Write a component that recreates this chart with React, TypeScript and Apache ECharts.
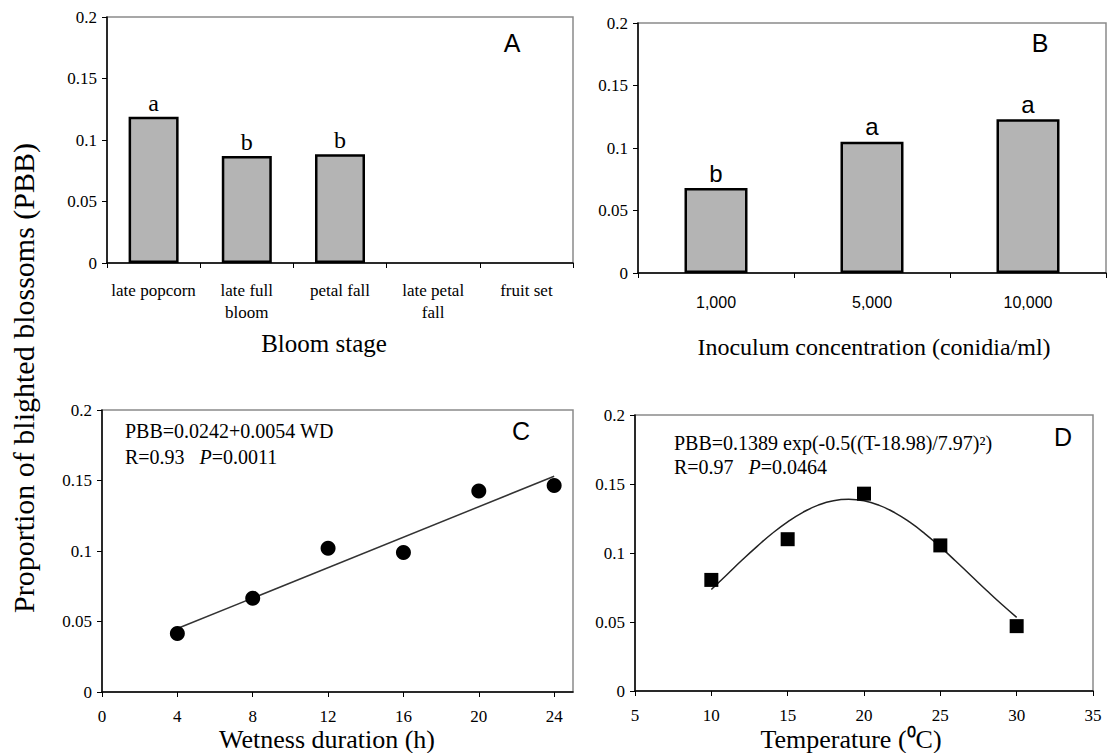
import React, { useEffect, useRef } from "react";
import * as echarts from "echarts";

const SERIF = "'Liberation Serif', 'Times New Roman', serif";
const SANS = "'Liberation Sans', Arial, sans-serif";

// Panel A: bloom stage
const bloomStages = ["late popcorn", "late full\nbloom", "petal fall", "late petal\nfall", "fruit set"];
const bloomPBB = [0.119, 0.087, 0.0885, 0, 0];
const bloomLetters = ["a", "b", "b", "", ""];

// Panel B: inoculum concentration
const inoculumLevels = ["1,000", "5,000", "10,000"];
const inoculumPBB = [0.068, 0.105, 0.123];
const inoculumLetters = ["b", "a", "a"];

// Panel C: wetness duration
const wetnessHours = [4, 8, 12, 16, 20, 24];
const wetnessPBB = [0.0415, 0.0665, 0.102, 0.099, 0.1425, 0.1465];
const wetnessFitHours = [4, 24];
const wetnessFitPBB = [0.045, 0.153];

// Panel D: temperature
const temperatures = [10, 15, 20, 25, 30];
const temperaturePBB = [0.0805, 0.11, 0.143, 0.1055, 0.047];
const tempFitT = [10, 11, 12, 13, 14, 15, 16, 17, 18, 19, 20, 21, 22, 23, 24, 25, 26, 27, 28, 29, 30];
const tempFitPBB = [0.0736, 0.0841, 0.0947, 0.1048, 0.1143, 0.1226, 0.1295, 0.1347, 0.1379, 0.1389, 0.1378,
  0.1345, 0.1293, 0.1223, 0.1139, 0.1044, 0.0942, 0.0837, 0.0732, 0.063, 0.0534];

const yMin = 0;
const yMax = 0.2;
const yStep = 0.05;

const barFill = "#b4b4b4";

function yAxis(gridIndex: number) {
  return {
    type: "value",
    gridIndex,
    min: yMin,
    max: yMax,
    interval: yStep,
    axisLine: { show: true, lineStyle: { color: "#000", width: 1.5 } },
    axisTick: { show: true, length: 5, lineStyle: { color: "#000", width: 1 } },
    splitLine: { show: false },
    axisLabel: { fontFamily: SERIF, fontSize: 17, color: "#000", margin: 10 },
  };
}

const gridBorder = { show: true, borderColor: "#8a8a8a", borderWidth: 1.5, backgroundColor: "transparent" };

function barItems(values: number[]) {
  return values.map((v) => (v === 0 ? { value: v, itemStyle: { borderWidth: 0, opacity: 0 } } : v));
}

export default function App() {
  const ref = useRef<HTMLDivElement>(null);
  useEffect(() => {
    if (!ref.current) return;
    const chart = echarts.init(ref.current, null, { renderer: "svg" });
    const option: any = {
      animation: false,
      backgroundColor: "#fff",
      grid: [
        { left: 107, top: 17, width: 466, height: 246, ...gridBorder },
        { left: 638, top: 23, width: 468, height: 250, ...gridBorder },
        { left: 102, top: 410, width: 471, height: 282, ...gridBorder },
        { left: 635, top: 415, width: 458, height: 276, ...gridBorder },
      ],
      xAxis: [
        {
          type: "category",
          gridIndex: 0,
          data: bloomStages,
          axisLine: { show: true, lineStyle: { color: "#000", width: 1.5 } },
          axisTick: { show: true, length: 5, lineStyle: { color: "#000" } },
          axisLabel: { interval: 0, fontFamily: SERIF, fontSize: 17, color: "#000", margin: 16, lineHeight: 22 },
        },
        {
          type: "category",
          gridIndex: 1,
          data: inoculumLevels,
          axisLine: { show: true, lineStyle: { color: "#000", width: 1.5 } },
          axisTick: { show: true, length: 5, lineStyle: { color: "#000" } },
          axisLabel: { interval: 0, fontFamily: SANS, fontSize: 16, color: "#000", margin: 21 },
        },
        {
          type: "value",
          gridIndex: 2,
          min: 0,
          max: 25,
          interval: 4,
          axisLine: { show: true, lineStyle: { color: "#000", width: 1.5 } },
          axisTick: { show: true, length: 5, lineStyle: { color: "#000" } },
          splitLine: { show: false },
          axisLabel: { fontFamily: SERIF, fontSize: 17, color: "#000", margin: 16, showMaxLabel: false },
        },
        {
          type: "value",
          gridIndex: 3,
          min: 5,
          max: 35,
          interval: 5,
          axisLine: { show: true, lineStyle: { color: "#000", width: 1.5 } },
          axisTick: { show: true, length: 5, lineStyle: { color: "#000" } },
          splitLine: { show: false },
          axisLabel: { fontFamily: SERIF, fontSize: 17, color: "#000", margin: 16 },
        },
      ],
      yAxis: [yAxis(0), yAxis(1), yAxis(2), yAxis(3)],
      series: [
        {
          type: "bar",
          xAxisIndex: 0,
          yAxisIndex: 0,
          data: barItems(bloomPBB),
          barWidth: 50,
          itemStyle: { color: barFill, borderColor: "#000", borderWidth: 2.5 },
          label: {
            show: true,
            position: "top",
            distance: 2,
            formatter: (p: any) => bloomLetters[p.dataIndex],
            fontFamily: SERIF,
            fontSize: 24,
            color: "#000",
          },
        },
        {
          type: "bar",
          xAxisIndex: 1,
          yAxisIndex: 1,
          data: inoculumPBB,
          barWidth: 63,
          itemStyle: { color: barFill, borderColor: "#000", borderWidth: 2.5 },
          label: {
            show: true,
            position: "top",
            distance: 3,
            formatter: (p: any) => inoculumLetters[p.dataIndex],
            fontFamily: SANS,
            fontSize: 24,
            color: "#000",
          },
        },
        {
          type: "line",
          xAxisIndex: 2,
          yAxisIndex: 2,
          data: wetnessFitHours.map((h, i) => [h, wetnessFitPBB[i]]),
          showSymbol: false,
          lineStyle: { color: "#333", width: 1.5 },
          z: 2,
        },
        {
          type: "scatter",
          xAxisIndex: 2,
          yAxisIndex: 2,
          data: wetnessHours.map((h, i) => [h, wetnessPBB[i]]),
          symbol: "circle",
          symbolSize: 15,
          itemStyle: { color: "#000", opacity: 1 },
          z: 3,
        },
        {
          type: "line",
          xAxisIndex: 3,
          yAxisIndex: 3,
          data: tempFitT.map((t, i) => [t, tempFitPBB[i]]),
          smooth: true,
          showSymbol: false,
          lineStyle: { color: "#222", width: 1.5 },
          z: 2,
        },
        {
          type: "scatter",
          xAxisIndex: 3,
          yAxisIndex: 3,
          data: temperatures.map((t, i) => [t, temperaturePBB[i]]),
          symbol: "rect",
          symbolSize: 14,
          itemStyle: { color: "#000", opacity: 1 },
          z: 3,
        },
      ],
      graphic: [
        {
          type: "text",
          x: 23,
          y: 378,
          rotation: Math.PI / 2,
          style: {
            text: "Proportion of blighted blossoms (PBB)",
            font: `30px ${SERIF}`,
            fill: "#000",
            align: "center",
            verticalAlign: "middle",
          },
        },
        { type: "text", x: 324, y: 343, style: { text: "Bloom stage", font: `25px ${SERIF}`, fill: "#000", align: "center", verticalAlign: "middle" } },
        { type: "text", x: 874, y: 347, style: { text: "Inoculum concentration (conidia/ml)", font: `24px ${SERIF}`, fill: "#000", align: "center", verticalAlign: "middle" } },
        { type: "text", x: 327, y: 739, style: { text: "Wetness duration (h)", font: `26px ${SERIF}`, fill: "#000", align: "center", verticalAlign: "middle" } },
        { type: "text", x: 851, y: 739, style: { text: "Temperature (\u2070C)", font: `26px ${SERIF}`, fill: "#000", align: "center", verticalAlign: "middle" } },
        { type: "text", x: 512, y: 43, style: { text: "A", font: `25px ${SANS}`, fill: "#000", align: "center", verticalAlign: "middle" } },
        { type: "text", x: 1040, y: 43, style: { text: "B", font: `25px ${SANS}`, fill: "#000", align: "center", verticalAlign: "middle" } },
        { type: "text", x: 521, y: 431, style: { text: "C", font: `25px ${SANS}`, fill: "#000", align: "center", verticalAlign: "middle" } },
        { type: "text", x: 1063, y: 437, style: { text: "D", font: `25px ${SANS}`, fill: "#000", align: "center", verticalAlign: "middle" } },
        {
          type: "text",
          x: 125,
          y: 431,
          style: { text: "PBB=0.0242+0.0054 WD", font: `20px ${SERIF}`, fill: "#000", align: "left", verticalAlign: "middle" },
        },
        {
          type: "text",
          x: 125,
          y: 457,
          style: {
            text: "R=0.93   {i|P}=0.0011",
            font: `20px ${SERIF}`,
            fill: "#000",
            align: "left",
            verticalAlign: "middle",
            rich: { i: { fontFamily: SERIF, fontSize: 20, fontStyle: "italic", fill: "#000" } },
          },
        },
        {
          type: "text",
          x: 674,
          y: 443,
          style: { text: "PBB=0.1389 exp(-0.5((T-18.98)/7.97)\u00B2)", font: `20px ${SERIF}`, fill: "#000", align: "left", verticalAlign: "middle" },
        },
        {
          type: "text",
          x: 674,
          y: 467,
          style: {
            text: "R=0.97   {i|P}=0.0464",
            font: `20px ${SERIF}`,
            fill: "#000",
            align: "left",
            verticalAlign: "middle",
            rich: { i: { fontFamily: SERIF, fontSize: 20, fontStyle: "italic", fill: "#000" } },
          },
        },
      ],
    };
    chart.setOption(option);
    return () => chart.dispose();
  }, []);
  return (
    <div
      ref={ref}
      style={{ position: "fixed", left: 0, top: 0, width: 1107, height: 753, background: "#fff" }}
    />
  );
}
